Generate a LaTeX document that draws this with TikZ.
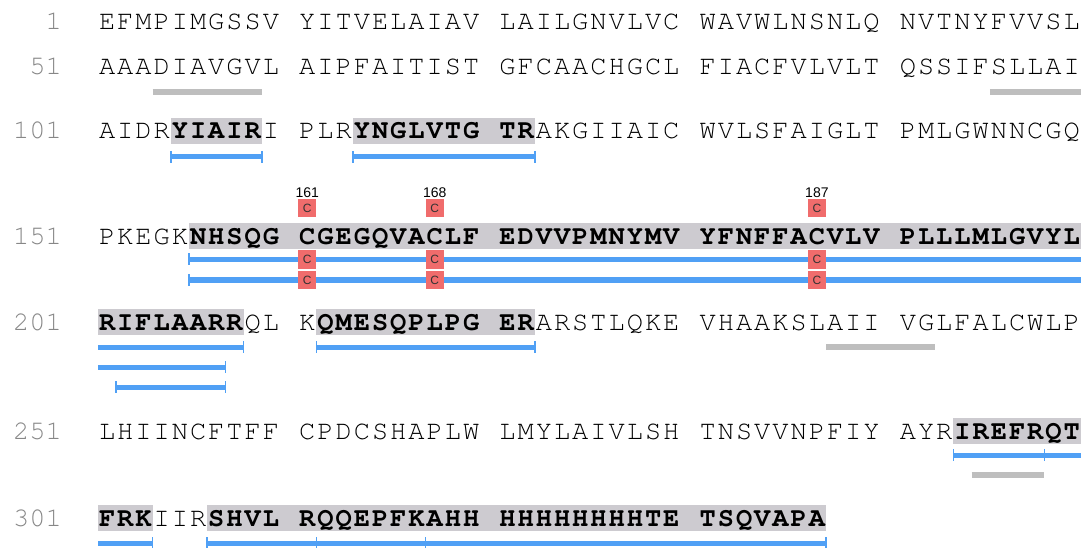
\documentclass[tikz,border=0pt]{standalone}
\usepackage[T1]{fontenc}
\usepackage{fontspec}
\setsansfont{Liberation Sans}
\usetikzlibrary{positioning,backgrounds}

\definecolor{hlgray}{RGB}{205,203,208}
\definecolor{pepblue}{RGB}{80,160,245}
\definecolor{tmgray}{RGB}{190,190,190}
\definecolor{cysred}{RGB}{240,108,108}
\definecolor{numgray}{RGB}{135,135,135}

\newcommand\seqfont{\fontencoding{T1}\fontfamily{pcr}\fontseries{m}\fontsize{27}{27}\selectfont}
\newcommand\seqbold{\fontencoding{T1}\fontfamily{pcr}\fontseries{b}\fontsize{27}{27}\selectfont}

\tikzset{
    declare function={cx(\c)=98+18.2*\c;},
    res/.style={anchor=base, inner sep=0pt, font=\seqfont},
    resb/.style={res, font=\seqbold},
    num/.style={anchor=base east, inner sep=0pt, font=\seqfont, text=numgray},
    hl/.style={fill=hlgray},
    pep/.style={draw=pepblue, line width=5pt},
    pepend/.style={draw=pepblue, line width=1.5pt},
    tmbar/.style={draw=tmgray, line width=6pt},
    cysbox/.style={fill=cysred, minimum width=18.2pt, minimum height=18.5pt, inner sep=0pt,
                   font=\sffamily\fontsize{12}{12}\selectfont, text=black!80},
    cyslbl/.style={inner sep=1pt, font=\sffamily\fontsize{14}{14}\selectfont}
}

% one residue in column #1 on baseline #2
\newcommand\res[3]{\node[res] at ({cx(#1)+9.1},#2) {#3};}
\newcommand\resb[3]{\node[resb] at ({cx(#1)+9.1},#2) {#3};}
% grey band behind bold columns #1..#2-1
\newcommand\hlband[3]{\begin{scope}[on background layer]
    \fill[hl] ({cx(#1)},#3-21) rectangle ({cx(#2)},#3+5);\end{scope}}
% peptide bar on y #1 from column #2 to #3, end ticks at #4
\newcommand\pep[4]{\draw[pep] ({cx(#2)},#1) -- ({cx(#3)},#1);
    \foreach \t in {#4} {\draw[pepend] ({cx(\t)},#1-6) -- ({cx(\t)},#1+6);}}
\newcommand\tmbar[3]{\draw[tmbar] ({cx(#2)},#1) -- ({cx(#3)},#1);}

% a row of residues, * switches bold on and off
\ExplSyntaxOn
\int_new:N \l_sq_col_int
\int_new:N \l_sq_start_int
\bool_new:N \l_sq_bold_bool
\NewDocumentCommand \seqrow { m m }
  {
    \int_zero:N \l_sq_col_int
    \bool_set_false:N \l_sq_bold_bool
    \str_map_inline:nn {#2}
      {
        \str_if_eq:nnTF {##1} {*}
          {
            \bool_if:NTF \l_sq_bold_bool
              {
                \bool_set_false:N \l_sq_bold_bool
                \exp_args:NVV \hlband \l_sq_start_int \l_sq_col_int {#1}
              }
              {
                \bool_set_true:N \l_sq_bold_bool
                \int_set_eq:NN \l_sq_start_int \l_sq_col_int
              }
          }
          {
            \str_if_eq:nnF {##1} {~}
              {
                \bool_if:NTF \l_sq_bold_bool
                  { \exp_args:NV \resb \l_sq_col_int {#1} {##1} }
                  { \exp_args:NV \res \l_sq_col_int {#1} {##1} }
              }
            \int_incr:N \l_sq_col_int
          }
      }
  }
\ExplSyntaxOff

\begin{document}
\begin{tikzpicture}[x=1pt, y=-1pt]
    \useasboundingbox (0,0) rectangle (1090,548);

    % ---- row numbers ----
    \foreach \n/\y in {1/30, 51/75, 101/139, 151/244, 201/330, 251/439, 301/526}
        \node[num] (num\n) at (62,\y) {\n};

    % ---- residues ----
    \seqrow{30}{EFMPIMGSSV YITVELAIAV LAILGNVLVC WAVWLNSNLQ NVTNYFVVSL}
    \seqrow{75}{AAADIAVGVL AIPFAITIST GFCAACHGCL FIACFVLVLT QSSIFSLLAI}
    \seqrow{139}{AIDR*YIAIR*I PLR*YNGLVTG TR*AKGIIAIC WVLSFAIGLT PMLGWNNCGQ}
    \seqrow{244}{PKEGK*NHSQG CGEGQVACLF EDVVPMNYMV YFNFFACVLV PLLLMLGVYL*}
    \seqrow{330}{*RIFLAARR*QL K*QMESQPLPG ER*ARSTLQKE VHAAKSLAII VGLFALCWLP}
    \seqrow{439}{LHIINCFTFF CPDCSHAPLW LMYLAIVLSH TNSVVNPFIY AYR*IREFRQT*}
    \seqrow{526}{*FRK*IIR*SHVL RQQEPFKAHH HHHHHHHHTE TSQVAPA*}

    % ---- grey bars ----
    \tmbar{92}{3}{9}
    \tmbar{92}{49}{54}
    \tmbar{347}{40}{46}
    \tmbar{475}{48}{52}

    % ---- peptides ----
    \pep{157}{4}{9}{4,9}
    \pep{157}{14}{24}{14,24}
    \pep{259.5}{5}{54}{5}
    \pep{280}{5}{54}{5}
    \pep{347}{0}{8}{8}
    \pep{347}{12}{24}{12,24}
    \pep{367}{0}{7}{7}
    \pep{387}{1}{7}{1,7}
    \pep{455}{47}{54}{47,52}
    \pep{543}{0}{3}{3}
    \pep{543}{6}{40}{6,12,18,40}

    % ---- cysteines ----
    \foreach \c/\n in {11/161, 18/168, 39/187} {
        \node[cysbox] (cys\n) at ({cx(\c)+9.1},208) {C};
        \node[cyslbl, above=0pt of cys\n] (lbl\n) {\n};
        \node[cysbox] (cys\n a) at ({cx(\c)+9.1},259.5) {C};
        \node[cysbox] (cys\n b) at ({cx(\c)+9.1},280) {C};
    }
\end{tikzpicture}
\end{document}
